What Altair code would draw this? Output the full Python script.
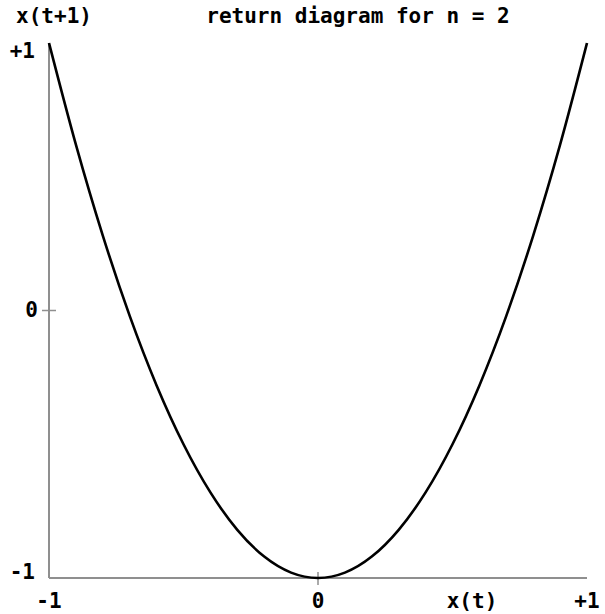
import altair as alt
import pandas as pd

# Return map x(t) -> x(t+1) sampled along the curve
x_t = [-1.0, -0.9, -0.8, -0.7, -0.6, -0.5, -0.4, -0.3, -0.2, -0.1, 0.0,
       0.1, 0.2, 0.3, 0.4, 0.5, 0.6, 0.7, 0.8, 0.9, 1.0]
x_next = [1.0, 0.62, 0.28, -0.02, -0.28, -0.5, -0.68, -0.82, -0.92, -0.98, -1.0,
          -0.98, -0.92, -0.82, -0.68, -0.5, -0.28, -0.02, 0.28, 0.62, 1.0]

x_tick_values = [-1, 0, 1]
x_tick_labels = ["-1", "0", "+1"]
y_tick_values = [1, 0, -1]
y_tick_labels = ["+1", "0", "-1"]

title_text = "return diagram for n = 2"
x_title = "x(t)"
y_title = "x(t+1)"

FONT = "DejaVu Sans Mono"
FS = 21
AXIS_COLOR = "#8f8f8f"

xs = alt.Scale(domain=[-1, 1], nice=False, zero=False)
ys = alt.Scale(domain=[-1, 1], nice=False, zero=False)

curve = pd.DataFrame({"x": x_t, "y": x_next})
line = alt.Chart(curve).mark_line(color="black", strokeWidth=2.6, interpolate="monotone").encode(
    x=alt.X("x:Q", scale=xs, axis=None),
    y=alt.Y("y:Q", scale=ys, axis=None),
)

# Axis lines along the left and bottom edges
axes_df = pd.DataFrame({
    "x": [-1, -1], "x2": [-1, 1],
    "y": [-1, -1], "y2": [1, -1],
})
axis_lines = alt.Chart(axes_df).mark_rule(color=AXIS_COLOR, strokeWidth=2).encode(
    x=alt.X("x:Q", scale=xs, axis=None), x2="x2:Q",
    y=alt.Y("y:Q", scale=ys, axis=None), y2="y2:Q",
)

# Short cross ticks at the zero values
ytick_df = pd.DataFrame({"x": [-1], "y": [0]})
y_tick = alt.Chart(ytick_df).mark_rule(
    color=AXIS_COLOR, strokeWidth=1.5, xOffset=-7, x2Offset=7
).encode(
    x=alt.X("x:Q", scale=xs, axis=None), x2="x:Q",
    y=alt.Y("y:Q", scale=ys, axis=None),
)
xtick_df = pd.DataFrame({"x": [0], "y": [-1]})
x_tick = alt.Chart(xtick_df).mark_rule(
    color=AXIS_COLOR, strokeWidth=1.5, yOffset=-6, y2Offset=7
).encode(
    x=alt.X("x:Q", scale=xs, axis=None),
    y=alt.Y("y:Q", scale=ys, axis=None), y2="y:Q",
)

text_style = dict(font=FONT, fontSize=FS, fontWeight="bold", color="black")

# Tick labels below the x axis
xlab_df = pd.DataFrame({"x": x_tick_values, "y": [-1] * 3, "label": x_tick_labels})
x_labels = alt.Chart(xlab_df).mark_text(align="center", baseline="middle", dy=24, **text_style).encode(
    x=alt.X("x:Q", scale=xs, axis=None), y=alt.Y("y:Q", scale=ys, axis=None), text="label:N"
)

# Tick labels left of the y axis
ylab_layers = []
y_label_dy = {1: 9, 0: 0, -1: -5}
y_label_dx = {1: -14, 0: -11, -1: -14}
for v, lab in zip(y_tick_values, y_tick_labels):
    df = pd.DataFrame({"x": [-1], "y": [v], "label": [lab]})
    ylab_layers.append(
        alt.Chart(df).mark_text(
            align="right", baseline="middle", dx=y_label_dx[v], dy=y_label_dy[v], **text_style
        ).encode(
            x=alt.X("x:Q", scale=xs, axis=None), y=alt.Y("y:Q", scale=ys, axis=None), text="label:N"
        )
    )

# Axis titles and chart title
xt_df = pd.DataFrame({"x": [1], "y": [-1], "label": [x_title]})
x_title_mark = alt.Chart(xt_df).mark_text(
    align="center", baseline="middle", dx=-115, dy=24, **text_style
).encode(
    x=alt.X("x:Q", scale=xs, axis=None), y=alt.Y("y:Q", scale=ys, axis=None), text="label:N"
)
yt_df = pd.DataFrame({"x": [-1], "y": [1], "label": [y_title]})
y_title_mark = alt.Chart(yt_df).mark_text(
    align="center", baseline="middle", dx=5, dy=-26, **text_style
).encode(
    x=alt.X("x:Q", scale=xs, axis=None), y=alt.Y("y:Q", scale=ys, axis=None), text="label:N"
)
tt_df = pd.DataFrame({"x": [0], "y": [1], "label": [title_text]})
title_mark = alt.Chart(tt_df).mark_text(
    align="center", baseline="middle", dx=40, dy=-26, **text_style
).encode(
    x=alt.X("x:Q", scale=xs, axis=None), y=alt.Y("y:Q", scale=ys, axis=None), text="label:N"
)

chart = alt.layer(
    axis_lines, y_tick, x_tick, line, x_labels, *ylab_layers, x_title_mark, y_title_mark, title_mark
).properties(
    width=538,
    height=535,
    padding={"left": 49, "top": 43, "right": 18, "bottom": 36},
    autosize=alt.AutoSizeParams(type="none"),
    background="white",
).configure_view(stroke=None)

chart.save("out.html", embed_options={"renderer": "svg", "actions": False})
